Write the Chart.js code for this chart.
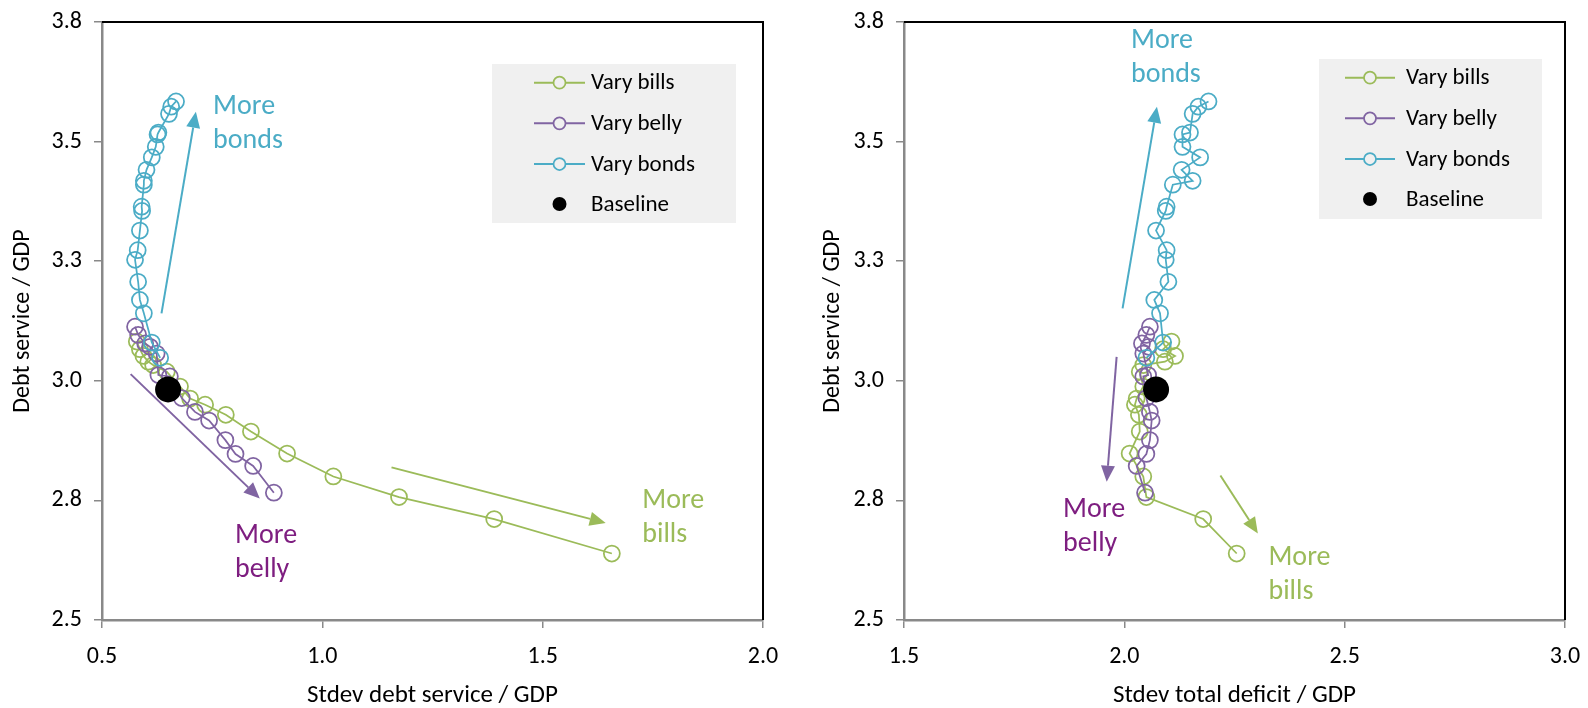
<!DOCTYPE html>
<html><head><meta charset="utf-8">
<script src="https://cdn.jsdelivr.net/npm/chart.js@4.4.1/dist/chart.umd.min.js"></script>
<style>
html,body{margin:0;padding:0;background:#fff;overflow:hidden;}
#wrap{position:relative;width:1588px;height:708px;}
.c{position:absolute;top:0;width:794px;height:708px;}
</style></head><body>
<div id="wrap">
<div class="c" style="left:0"><canvas id="left"></canvas></div>
<div class="c" style="left:794px"><canvas id="right"></canvas></div>
</div>
<script>
// ---------- tick labels ----------
const yTickValues = [2.5, 2.75, 3.0, 3.25, 3.5, 3.75];
const yTickLabels = ['2.5', '2.8', '3.0', '3.3', '3.5', '3.8'];
const xTickValuesLeft = [0.5, 1.0, 1.5, 2.0];
const xTickLabelsLeft = ['0.5', '1.0', '1.5', '2.0'];
const xTickValuesRight = [1.5, 2.0, 2.5, 3.0];
const xTickLabelsRight = ['1.5', '2.0', '2.5', '3.0'];

const seriesLabels = ['Vary bills', 'Vary belly', 'Vary bonds', 'Baseline'];
const leftXTitle = 'Stdev debt service / GDP';
const rightXTitle = 'Stdev total deficit / GDP';
const yTitle = 'Debt service / GDP';

// ---------- Vary bills ----------
const billsDebtService = [3.082, 3.066, 3.052, 3.040, 3.033, 3.019, 2.988, 2.963, 2.950, 2.929, 2.894, 2.848, 2.800, 2.757, 2.711, 2.639];
const billsStdevDebtService = [0.579, 0.586, 0.594, 0.605, 0.616, 0.647, 0.677, 0.700, 0.734, 0.781, 0.838, 0.920, 1.025, 1.174, 1.390, 1.657];
const billsStdevDeficit = [2.107, 2.088, 2.115, 2.092, 2.043, 2.035, 2.043, 2.028, 2.024, 2.033, 2.035, 2.012, 2.043, 2.050, 2.179, 2.255];

// ---------- Vary belly ----------
const bellyDebtService = [3.113, 3.096, 3.078, 3.071, 3.057, 3.012, 3.009, 2.964, 2.935, 2.917, 2.876, 2.847, 2.822, 2.766];
const bellyStdevDebtService = [0.575, 0.582, 0.598, 0.609, 0.624, 0.628, 0.654, 0.681, 0.711, 0.743, 0.780, 0.803, 0.843, 0.890];
const bellyStdevDeficit = [2.058, 2.050, 2.040, 2.055, 2.043, 2.054, 2.043, 2.050, 2.058, 2.062, 2.058, 2.050, 2.028, 2.047];

// ---------- Vary bonds ----------
const bondsDebtService = [3.584, 3.573, 3.558, 3.519, 3.515, 3.489, 3.467, 3.441, 3.418, 3.410, 3.364, 3.355, 3.314, 3.273, 3.253, 3.207, 3.169, 3.141, 3.080, 3.048];
const bondsStdevDebtService = [0.668, 0.657, 0.652, 0.628, 0.626, 0.622, 0.613, 0.601, 0.595, 0.595, 0.590, 0.591, 0.586, 0.581, 0.575, 0.582, 0.586, 0.595, 0.613, 0.632];
const bondsStdevDeficit = [2.191, 2.168, 2.155, 2.149, 2.132, 2.132, 2.172, 2.130, 2.155, 2.110, 2.096, 2.094, 2.072, 2.096, 2.094, 2.100, 2.068, 2.081, 2.088, 2.050];

// ---------- Baseline ----------
const baselineDebtService = [2.982];
const baselineStdevDebtService = [0.650];
const baselineStdevDeficit = [2.072];

// ---------- styling ----------
const GREEN = '#9BBB59', PURPLE = '#8064A2', BLUE = '#4BACC6', BELLY_TEXT = '#7E1E80';
const AXIS_GRAY = '#898989';
const FONT = 'Carlito, Calibri, Lato, sans-serif';

function pts(xs, ys) { return xs.map((x, i) => ({x: x, y: ys[i]})); }
function lookupLabel(values, labels, v) {
  for (let i = 0; i < values.length; i++) if (Math.abs(values[i] - v) < 1e-9) return labels[i];
  return '';
}

function makeDecor(cfg) {
  return {
    id: 'decor',
    beforeDatasetsDraw(chart) {
      const {ctx, chartArea: a} = chart;
      ctx.save();
      ctx.strokeStyle = '#000';
      ctx.lineWidth = 2;
      ctx.beginPath();
      ctx.moveTo(a.left, a.top);
      ctx.lineTo(a.right, a.top);
      ctx.lineTo(a.right, a.bottom);
      ctx.stroke();
      ctx.restore();
    },
    afterDatasetsDraw(chart) {
      const {ctx} = chart;
      const sx = chart.scales.x, sy = chart.scales.y;
      ctx.save();
      cfg.arrows.forEach(ar => {
        const x0 = sx.getPixelForValue(ar.from[0]), y0 = sy.getPixelForValue(ar.from[1]);
        const x1 = sx.getPixelForValue(ar.to[0]), y1 = sy.getPixelForValue(ar.to[1]);
        const ang = Math.atan2(y1 - y0, x1 - x0);
        const hl = 16, hw = 7;
        const bx = x1 - hl * Math.cos(ang), by = y1 - hl * Math.sin(ang);
        ctx.strokeStyle = ar.color; ctx.fillStyle = ar.color; ctx.lineWidth = 2;
        ctx.beginPath(); ctx.moveTo(x0, y0); ctx.lineTo(bx, by); ctx.stroke();
        ctx.beginPath();
        ctx.moveTo(x1, y1);
        ctx.lineTo(bx + hw * Math.sin(ang), by - hw * Math.cos(ang));
        ctx.lineTo(bx - hw * Math.sin(ang), by + hw * Math.cos(ang));
        ctx.closePath(); ctx.fill();
      });
      cfg.texts.forEach(t => {
        const x = sx.getPixelForValue(t.at[0]), y = sy.getPixelForValue(t.at[1]);
        ctx.fillStyle = t.color;
        ctx.font = '28px ' + FONT;
        ctx.textAlign = 'left'; ctx.textBaseline = 'alphabetic';
        t.lines.forEach((ln, i) => ctx.fillText(ln, x, y + i * 34));
      });
      const L = cfg.legend;
      ctx.fillStyle = '#F0F0F0';
      ctx.fillRect(L.x, L.y, L.w, L.h);
      chart.data.datasets.slice().sort((a, b) => a.legendIndex - b.legendIndex).forEach((ds, i) => {
        const ry = L.y + L.rows[i];
        const mx = (L.lineX0 + L.lineX1) / 2;
        if (ds.showLine) {
          ctx.strokeStyle = ds.borderColor; ctx.lineWidth = 2;
          ctx.beginPath(); ctx.moveTo(L.lineX0, ry); ctx.lineTo(L.lineX1, ry); ctx.stroke();
          ctx.fillStyle = '#F0F0F0';
          ctx.beginPath(); ctx.arc(mx, ry, 6, 0, Math.PI * 2); ctx.fill();
          ctx.lineWidth = 1.75;
          ctx.stroke();
        } else {
          ctx.fillStyle = '#000';
          ctx.beginPath(); ctx.arc(mx, ry, 7, 0, Math.PI * 2); ctx.fill();
        }
        ctx.fillStyle = '#000';
        ctx.font = '23px ' + FONT;
        ctx.textAlign = 'left'; ctx.textBaseline = 'middle';
        ctx.fillText(ds.label, L.textX, ry + 1);
      });
      ctx.restore();
    }
  };
}

function lineDataset(label, data, color, order, legendIndex) {
  return {
    label: label, data: data, showLine: true, order: order, legendIndex: legendIndex,
    borderColor: color, borderWidth: 1.75, backgroundColor: 'rgba(0,0,0,0)',
    pointStyle: 'circle', pointRadius: 8, pointBorderWidth: 1.75,
    pointBorderColor: color, pointBackgroundColor: 'rgba(0,0,0,0)', tension: 0
  };
}

function makeChart(id, o) {
  const datasets = [
    lineDataset(seriesLabels[0], pts(o.bx, billsDebtService), GREEN, 3, 0),
    lineDataset(seriesLabels[1], pts(o.ex, bellyDebtService), PURPLE, 2, 1),
    lineDataset(seriesLabels[2], pts(o.nx, bondsDebtService), BLUE, 1, 2),
    {label: seriesLabels[3], data: pts(o.basex, baselineDebtService), showLine: false, order: 0, legendIndex: 3,
     pointStyle: 'circle', pointRadius: 13, backgroundColor: '#000', borderColor: '#000', pointBorderWidth: 0}
  ];
  return new Chart(document.getElementById(id), {
    type: 'scatter',
    data: {datasets: datasets},
    options: {
      responsive: true, maintainAspectRatio: false, animation: false, events: [],
      layout: {padding: {top: 22, right: o.padRight, bottom: 0, left: 0}},
      plugins: {legend: {display: false}, tooltip: {enabled: false}},
      scales: {
        x: {
          type: 'linear', position: 'bottom', min: o.xMin, max: o.xMax,
          afterBuildTicks: s => { s.ticks = o.xTickValues.map(v => ({value: v})); },
          afterFit: s => { s.height = 88; s.paddingLeft = 0; s.paddingRight = 0; },
          ticks: {callback: v => lookupLabel(o.xTickValues, o.xTickLabels, v),
                  font: {family: FONT, size: 24}, color: '#000', padding: 15, maxRotation: 0, autoSkip: false},
          grid: {drawOnChartArea: false, drawTicks: true, tickLength: 8, color: AXIS_GRAY, lineWidth: 1.5},
          border: {display: true, color: AXIS_GRAY, width: 2.5},
          title: {display: true, text: o.xTitle, color: '#000', font: {family: FONT, size: 25, lineHeight: 1.0}, padding: {top: 0, bottom: 0}}
        },
        y: {
          type: 'linear', position: 'left', min: 2.5, max: 3.75,
          afterBuildTicks: s => { s.ticks = yTickValues.map(v => ({value: v})); },
          afterFit: s => { s.width = o.yWidth; s.paddingTop = 0; s.paddingBottom = 0; },
          ticks: {callback: v => lookupLabel(yTickValues, yTickLabels, v),
                  font: {family: FONT, size: 24}, color: '#000', padding: 12, autoSkip: false},
          grid: {drawOnChartArea: false, drawTicks: true, tickLength: 8, color: AXIS_GRAY, lineWidth: 1.5},
          border: {display: true, color: AXIS_GRAY, width: 2.5},
          title: {display: true, text: yTitle, color: '#000', font: {family: FONT, size: 24, lineHeight: 1.0}, padding: {top: o.yTitlePad, bottom: 0}}
        }
      }
    },
    plugins: [makeDecor(o.decor)]
  });
}

makeChart('left', {
  bx: billsStdevDebtService, ex: bellyStdevDebtService, nx: bondsStdevDebtService, basex: baselineStdevDebtService,
  xMin: 0.5, xMax: 2.0, xTickValues: xTickValuesLeft, xTickLabels: xTickLabelsLeft, xTitle: leftXTitle,
  yWidth: 102, padRight: 31, yTitlePad: 11,
  decor: {
    arrows: [
      {from: [0.635, 3.141], to: [0.713, 3.5625], color: BLUE},
      {from: [0.565, 3.014], to: [0.858, 2.754], color: PURPLE},
      {from: [1.157, 2.819], to: [1.643, 2.703], color: GREEN}
    ],
    texts: [
      {at: [0.752, 3.558], lines: ['More', 'bonds'], color: BLUE},
      {at: [0.802, 2.660], lines: ['More', 'belly'], color: BELLY_TEXT},
      {at: [1.726, 2.7335], lines: ['More', 'bills'], color: GREEN}
    ],
    legend: {x: 492, y: 64, w: 244, h: 159, rows: [18.7, 59.3, 100, 140], lineX0: 534, lineX1: 585, textX: 591}
  }
});

makeChart('right', {
  bx: billsStdevDeficit, ex: bellyStdevDeficit, nx: bondsStdevDeficit, basex: baselineStdevDeficit,
  xMin: 1.5, xMax: 3.0, xTickValues: xTickValuesRight, xTickLabels: xTickLabelsRight, xTitle: rightXTitle,
  yWidth: 110, padRight: 23, yTitlePad: 27,
  decor: {
    arrows: [
      {from: [1.996, 3.1515], to: [2.074, 3.573], color: BLUE},
      {from: [1.9825, 3.050], to: [1.960, 2.789], color: PURPLE},
      {from: [2.218, 2.802], to: [2.303, 2.681], color: GREEN}
    ],
    texts: [
      {at: [2.015, 3.696], lines: ['More', 'bonds'], color: BLUE},
      {at: [1.861, 2.716], lines: ['More', 'belly'], color: BELLY_TEXT},
      {at: [2.327, 2.615], lines: ['More', 'bills'], color: GREEN}
    ],
    legend: {x: 525, y: 59, w: 223, h: 160, rows: [18.7, 59.3, 100, 140], lineX0: 551, lineX1: 601, textX: 612}
  }
});
</script>
</body></html>
